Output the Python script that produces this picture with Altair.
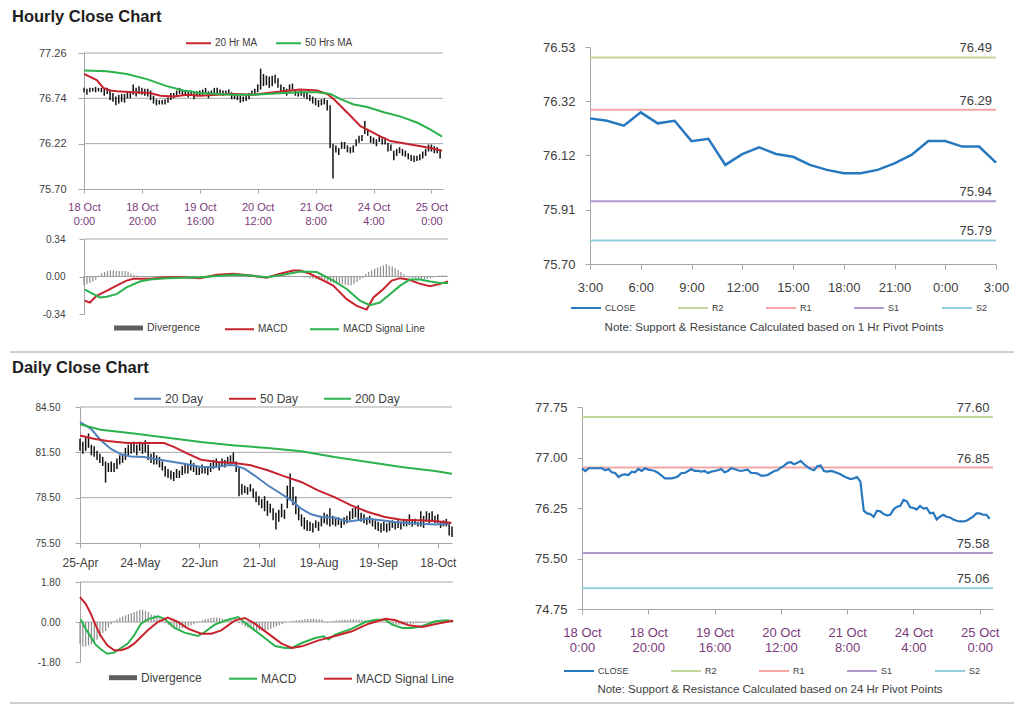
import json
import altair as alt
import pandas as pd

FONT = "Liberation Sans"
RED = "#c8232c"
GREEN = "#2bb24c"
BLUE20 = "#4f81bd"
CLOSE_BLUE = "#2878c0"
R2C, R1C, S1C, S2C = "#c3d69b", "#f4a6a6", "#b09ad0", "#92cddc"
GRID = "#a6a6a6"
AXC = "#a6a6a6"
TXT = "#404040"
PURPLE = "#7b3b7b"
DIVC = "#8c8c8c"
W, H = 1008, 697

# ---------------- data ----------------
HR_TICKS = [0, 20, 40, 60, 80, 100, 120]
HR_LABELS = [["18 Oct", "0:00"], ["18 Oct", "20:00"], ["19 Oct", "16:00"], ["20 Oct", "12:00"],
             ["21 Oct", "8:00"], ["24 Oct", "4:00"], ["25 Oct", "0:00"]]
DY_TICKS = [0, 21, 42, 63, 84, 105, 126]
DY_LABELS = ["25-Apr", "24-May", "22-Jun", "21-Jul", "19-Aug", "19-Sep", "18-Oct"]
PV_TICKS = [0, 3, 6, 9, 12, 15, 18, 21, 24]
PV_LABELS = ["3:00", "6:00", "9:00", "12:00", "15:00", "18:00", "21:00", "0:00", "3:00"]

hr_close = [76.84, 76.80, 76.84, 76.84, 76.84, 76.84, 76.84, 76.81, 76.83, 76.78,
            76.77, 76.71, 76.74, 76.75, 76.74, 76.79, 76.78, 76.83, 76.80, 76.84,
            76.82, 76.81, 76.80, 76.77, 76.73, 76.69, 76.69, 76.69, 76.70, 76.72,
            76.77, 76.77, 76.80, 76.83, 76.80, 76.80, 76.79, 76.80, 76.77, 76.79,
            76.80, 76.81, 76.83, 76.78, 76.80, 76.84, 76.83, 76.81, 76.80, 76.81,
            76.82, 76.77, 76.77, 76.76, 76.73, 76.73, 76.74, 76.77, 76.80, 76.81,
            76.85, 76.88, 76.92, 76.93, 76.90, 76.92, 76.95, 76.90, 76.86, 76.83,
            76.81, 76.87, 76.88, 76.80, 76.79, 76.80, 76.79, 76.77, 76.75, 76.72,
            76.70, 76.68, 76.69, 76.71, 76.64, 76.21, 76.17, 76.16, 76.12, 76.21,
            76.20, 76.16, 76.14, 76.15, 76.23, 76.27, 76.28, 76.37, 76.35, 76.26,
            76.25, 76.23, 76.28, 76.24, 76.25, 76.17, 76.18, 76.08, 76.12, 76.15,
            76.12, 76.11, 76.08, 76.06, 76.05, 76.05, 76.06, 76.09, 76.12, 76.17,
            76.17, 76.15, 76.15, 76.09]
hr_hi = [76.86, 76.85, 76.86, 76.86, 76.87, 76.86, 76.86, 76.85, 76.86, 76.84,
         76.80, 76.76, 76.78, 76.79, 76.79, 76.82, 76.80, 76.90, 76.86, 76.88,
         76.86, 76.85, 76.85, 76.83, 76.77, 76.73, 76.72, 76.72, 76.73, 76.75,
         76.80, 76.80, 76.83, 76.86, 76.83, 76.83, 76.82, 76.83, 76.81, 76.82,
         76.83, 76.84, 76.86, 76.82, 76.83, 76.86, 76.86, 76.84, 76.83, 76.83,
         76.84, 76.81, 76.80, 76.79, 76.77, 76.76, 76.77, 76.80, 76.83, 76.85,
         76.90, 77.08, 77.02, 77.00, 76.99, 77.00, 77.01, 76.97, 76.90, 76.87,
         76.85, 76.90, 76.91, 76.84, 76.82, 76.83, 76.82, 76.80, 76.78, 76.76,
         76.74, 76.72, 76.73, 76.74, 76.72, 76.66, 76.22, 76.20, 76.17, 76.24,
         76.24, 76.20, 76.18, 76.20, 76.27, 76.31, 76.32, 76.48, 76.39, 76.31,
         76.29, 76.27, 76.31, 76.28, 76.29, 76.23, 76.21, 76.14, 76.16, 76.18,
         76.16, 76.14, 76.11, 76.09, 76.08, 76.08, 76.10, 76.13, 76.16, 76.21,
         76.21, 76.19, 76.18, 76.15]
hr_lo = [76.81, 76.78, 76.81, 76.82, 76.81, 76.82, 76.81, 76.77, 76.79, 76.72,
         76.70, 76.66, 76.68, 76.70, 76.69, 76.74, 76.74, 76.78, 76.76, 76.79,
         76.78, 76.77, 76.76, 76.72, 76.68, 76.66, 76.67, 76.67, 76.67, 76.69,
         76.72, 76.74, 76.76, 76.79, 76.77, 76.77, 76.75, 76.77, 76.73, 76.76,
         76.77, 76.78, 76.79, 76.74, 76.77, 76.80, 76.80, 76.78, 76.77, 76.78,
         76.79, 76.73, 76.73, 76.72, 76.69, 76.70, 76.71, 76.73, 76.77, 76.78,
         76.81, 76.84, 76.88, 76.89, 76.86, 76.88, 76.91, 76.86, 76.82, 76.79,
         76.77, 76.82, 76.84, 76.77, 76.76, 76.77, 76.75, 76.73, 76.71, 76.68,
         76.66, 76.64, 76.66, 76.67, 76.60, 76.17, 75.82, 76.12, 76.09, 76.16,
         76.16, 76.12, 76.11, 76.12, 76.19, 76.23, 76.25, 76.33, 76.31, 76.23,
         76.22, 76.19, 76.24, 76.21, 76.21, 76.13, 76.14, 76.03, 76.08, 76.11,
         76.08, 76.07, 76.04, 76.02, 76.01, 76.02, 76.03, 76.05, 76.08, 76.13,
         76.13, 76.11, 76.11, 76.05]

ma20h_i = [0, 4.4, 6.7, 9, 11.3, 17, 22.8, 26.4, 31, 35.6, 40.1, 45.9, 51.7, 58.6, 63.2, 69, 74.7,
           80.5, 84, 86.3, 92, 95.5, 99, 102.5, 105.9, 109.4, 112.8, 116.3, 119.7, 123.7]
ma20h_v = [77.02, 76.95, 76.86, 76.83, 76.82, 76.81, 76.80, 76.77, 76.76, 76.78, 76.77, 76.78, 76.79,
           76.78, 76.80, 76.82, 76.84, 76.83, 76.79, 76.73, 76.54, 76.42, 76.36, 76.30, 76.25, 76.23,
           76.21, 76.19, 76.17, 76.14]
ma50h_i = [0, 7.9, 14.8, 21.7, 28.6, 34.4, 40.1, 45.9, 51.7, 57.5, 63.2, 69, 74.7, 80.5, 85.1, 88.6,
           93.2, 97.8, 103.6, 109.4, 115.2, 119.7, 123.7]
ma50h_v = [77.06, 77.05, 77.02, 76.96, 76.88, 76.83, 76.80, 76.79, 76.78, 76.78, 76.79, 76.80, 76.81,
           76.81, 76.79, 76.73, 76.67, 76.64, 76.58, 76.53, 76.46, 76.38, 76.30]

macdh_i = [0.3, 2, 4.3, 7.7, 11.1, 14.5, 16.8, 22.5, 28.2, 33.9, 39.5, 45.2, 50.9, 56.6, 62.2, 66.8,
           71.3, 73.6, 77, 81.6, 84.9, 89.5, 92.9, 96.3, 98.6, 102, 104.8, 107.7, 110.5, 114.5, 117.9,
           121.3, 124]
macdh_v = [-0.22, -0.236, -0.175, -0.13, -0.083, -0.037, -0.021, -0.02, -0.006, -0.006, -0.015, 0.015,
           0.025, 0.009, -0.012, 0.025, 0.055, 0.055, 0.025, -0.037, -0.083, -0.205, -0.266, -0.30,
           -0.19, -0.113, -0.037, -0.015, -0.028, -0.067, -0.089, -0.067, -0.046]
sigh_i = [0.3, 3.2, 5.4, 7.7, 11.1, 14.5, 19, 22.5, 28.2, 39.5, 50.9, 56.6, 62.2, 67.9, 73.6, 79.3,
          84.9, 89.5, 94, 97.4, 100.8, 104.2, 107.7, 111, 114.5, 117.9, 121.3, 124]
sigh_v = [-0.12, -0.16, -0.19, -0.184, -0.16, -0.098, -0.046, -0.028, -0.015, -0.006, 0.015, 0.009,
          -0.006, 0.015, 0.046, 0.04, -0.037, -0.113, -0.22, -0.26, -0.236, -0.16, -0.083, -0.028,
          -0.028, -0.046, -0.058, -0.058]
divh = [-0.08, -0.07, -0.06, -0.045, -0.03, 0.01, 0.03, 0.04, 0.05, 0.055,
        0.055, 0.05, 0.05, 0.05, 0.05, 0.045, 0.03, 0.015, 0.008, 0.005,
        0.003, 0.002, 0.0, -0.004, -0.005, 0.003, 0.008, 0.006, 0.005, 0.004,
        0.004, 0.003, 0.002, -0.003, 0.003, 0.002, -0.002, 0.003, 0.004, 0.002,
        -0.003, -0.004, 0.002, 0.003, 0.004, 0.005, 0.006, 0.004, 0.003, 0.002,
        0.003, 0.004, -0.002, -0.004, -0.005, -0.004, -0.003, -0.002, 0.002, -0.003,
        -0.005, -0.004, -0.005, 0.004, 0.01, 0.012, 0.012, 0.011, 0.01, 0.009,
        0.008, 0.006, 0.005, 0.0, -0.005, -0.008, -0.01, -0.015, -0.02, -0.025,
        -0.03, -0.035, -0.04, -0.045, -0.05, -0.055, -0.06, -0.065, -0.07, -0.075,
        -0.08, -0.08, -0.07, -0.05, -0.03, -0.015, 0.02, 0.04, 0.055, 0.07,
        0.08, 0.09, 0.1, 0.11, 0.1, 0.09, 0.075, 0.06, 0.04, 0.02,
        0.005, -0.01, -0.015, -0.02, -0.022, -0.025, -0.022, -0.02, -0.015, -0.01,
        -0.005, 0.01, 0.012, 0.012]
hprice_grid = [76.22, 76.74, 77.26]
macdh_grid = [0.34, 0.0]

piv1_close = [76.257, 76.248, 76.229, 76.28, 76.238, 76.248, 76.170, 76.179, 76.079, 76.12, 76.146,
              76.121, 76.11, 76.079, 76.06, 76.047, 76.047, 76.06, 76.085, 76.117, 76.17, 76.17,
              76.149, 76.149, 76.088]
PIV_NAMES = ["R2", "R1", "S1", "S2"]
piv1_levels = [76.49, 76.29, 75.94, 75.79]
piv24_levels = [77.60, 76.85, 75.58, 75.06]
NOTE1 = "Note: Support & Resistance Calculated based on 1 Hr Pivot Points"
NOTE24 = "Note: Support & Resistance Calculated based on 24 Hr Pivot Points"

dy_hi = [82.4, 82.2, 82.5, 82.75, 82.0, 81.9, 81.6, 81.4, 81.2, 80.9,
         80.8, 80.9, 80.8, 81.1, 81.3, 81.4, 81.8, 82.0, 82.1, 82.2,
         82.0, 82.2, 82.1, 82.3, 82.0, 81.4, 81.5, 81.3, 81.2, 80.9,
         80.6, 80.4, 80.3, 80.2, 80.4, 80.3, 80.6, 80.8, 80.7, 81.0,
         80.8, 80.6, 80.5, 80.7, 80.6, 80.5, 80.8, 81.0, 81.1, 80.9,
         81.1, 81.0, 81.2, 81.3, 81.5, 80.9, 80.5, 79.4, 79.3, 79.2,
         79.4, 79.1, 78.9, 78.6, 78.4, 78.6, 78.3, 78.1, 77.8, 77.5,
         77.7, 78.1, 77.7, 79.3, 80.1, 79.2, 78.6, 77.9, 77.4, 77.2,
         77.0, 76.9, 76.8, 77.0, 76.9, 77.3, 77.5, 77.4, 77.8, 77.3,
         77.1, 77.2, 77.0, 77.2, 77.3, 77.6, 77.8, 77.9, 78.0, 77.5,
         77.4, 77.2, 77.3, 77.1, 77.0, 76.9, 76.8, 76.9, 76.8, 76.9,
         77.0, 76.9, 77.0, 76.9, 77.1, 77.0, 77.4, 77.0, 77.1, 76.9,
         77.6, 77.3, 77.6, 77.5, 77.6, 77.3, 77.4, 76.9, 77.0, 77.1,
         76.9, 76.6]
dy_lo = [81.6, 81.4, 81.6, 81.8, 81.3, 81.2, 81.0, 80.8, 80.6, 79.5,
         80.2, 80.2, 80.2, 80.4, 80.7, 80.8, 81.0, 81.3, 81.4, 81.5,
         81.3, 81.6, 81.4, 81.5, 81.0, 80.8, 80.7, 80.7, 80.5, 80.3,
         79.9, 79.8, 79.7, 79.6, 79.8, 79.8, 80.0, 80.1, 80.1, 80.3,
         80.2, 80.0, 80.0, 80.1, 80.1, 80.0, 80.2, 80.4, 80.5, 80.3,
         80.6, 80.5, 80.7, 80.6, 80.8, 80.2, 78.6, 78.7, 78.8, 78.7,
         78.9, 78.5, 78.2, 78.0, 77.8, 77.6, 77.3, 77.5, 77.0, 76.4,
         76.9, 77.2, 77.1, 77.8, 78.4, 78.0, 77.4, 77.0, 76.6, 76.4,
         76.3, 76.3, 76.2, 76.5, 76.3, 76.6, 76.8, 76.7, 76.6, 76.7,
         76.6, 76.7, 76.5, 76.7, 76.8, 77.0, 77.1, 77.2, 77.0, 76.9,
         76.8, 76.7, 76.8, 76.6, 76.4, 76.3, 76.2, 76.3, 76.2, 76.3,
         76.5, 76.4, 76.5, 76.4, 76.6, 76.6, 76.7, 76.6, 76.7, 76.6,
         76.6, 76.5, 76.9, 76.8, 76.9, 76.8, 76.8, 76.5, 76.6, 76.6,
         76.0, 75.9]
dprice_grid = [78.5, 81.5, 84.5]

ma20d_i = [0, 3.8, 7.3, 10.8, 14.4, 17.9, 22.6, 26.1, 30.8, 36.7, 42.6, 47.3, 52, 54.4, 57.9, 61.4,
           66.1, 70.8, 74.4, 77.9, 81.4, 84.9, 89.6, 94.4, 97.9, 101.4, 106.1, 110.8, 115.5, 120.2,
           124.9, 130.2]
ma20d_v = [83.5, 83.07, 82.3, 81.74, 81.37, 81.23, 81.19, 81.08, 80.93, 80.75, 80.53, 80.53, 80.64,
           80.64, 80.42, 79.98, 79.32, 78.76, 78.32, 77.77, 77.4, 77.22, 77.18, 76.93, 77.0, 77.11,
           77.0, 76.89, 76.82, 76.78, 76.73, 76.78]
ma50d_i = [0, 4.9, 9.6, 16.7, 22.6, 29.6, 33.2, 37.9, 42.6, 48.5, 54.4, 60.2, 66.1, 72, 77.9, 83.8,
           89.6, 95.5, 101.4, 107.3, 113.2, 119.1, 125, 130.8]
ma50d_v = [82.62, 82.4, 82.25, 82.12, 82.12, 82.12, 81.85, 81.41, 81.01, 80.86, 80.79, 80.64, 80.31,
           79.91, 79.54, 78.98, 78.54, 77.99, 77.55, 77.22, 77.04, 77.0, 76.96, 76.82]
ma200d_i = [0, 7.3, 19, 30.8, 42.6, 54.4, 66.1, 77.9, 89.6, 101.4, 113.2, 125, 131]
ma200d_v = [83.35, 83.0, 82.74, 82.47, 82.18, 81.96, 81.79, 81.57, 81.19, 80.86, 80.53, 80.26, 80.09]

macdd_i = [0.2, 2, 3.8, 5.5, 7.3, 9.6, 12, 14.4, 16.7, 19, 21.4, 23.8, 27.3, 29.6, 33.2, 36.7, 41.4,
           43.8, 47.3, 52, 55.5, 57.9, 61.4, 64.9, 68.5, 72, 74.4, 77.9, 82.6, 85.5, 87.3, 89.6, 95.5,
           100.2, 103.8, 107.3, 109.6, 113.2, 116.7, 120.2, 124.9, 128.5, 131]
macdd_v = [0.12, -0.3, -0.67, -1.02, -1.23, -1.43, -1.38, -1.17, -0.98, -0.6, -0.075, 0.12, 0.255,
           0.15, -0.27, -0.48, -0.63, -0.45, -0.12, 0.105, 0.225, -0.03, -0.375, -0.72, -1.08, -1.17,
           -1.17, -0.945, -0.72, -0.645, -0.78, -0.57, -0.3, 0.0, 0.105, 0.105, -0.12, -0.27, -0.27,
           -0.18, 0.03, 0.075, 0.03]
sigd_i = [0, 2, 3.8, 5.5, 7.3, 9.6, 12, 14.4, 16.7, 19, 21.4, 23.8, 27.3, 30.8, 34.4, 37.9, 42.6,
          46.1, 49.6, 54.4, 57.9, 61.4, 66.1, 70.8, 74.4, 77.9, 83.8, 89.6, 95.5, 101.4, 107.3, 110.8,
          115.5, 120.2, 124.9, 131]
sigd_v = [1.12, 0.82, 0.375, -0.15, -0.63, -1.05, -1.27, -1.27, -1.17, -0.975, -0.675, -0.375, 0.0,
          0.195, 0.0, -0.3, -0.525, -0.525, -0.375, 0.075, 0.18, -0.075, -0.525, -0.975, -1.17,
          -1.095, -0.825, -0.63, -0.42, -0.075, 0.15, 0.075, -0.15, -0.225, -0.09, 0.06]
divd = [-1.0, -1.1, -1.1, -1.05, -1.0, -0.9, -0.8, -0.65, -0.5, -0.4, -0.25, -0.1,
        0.05, 0.12, 0.2, 0.25, 0.3, 0.35, 0.4, 0.45, 0.5, 0.55, 0.55, 0.5,
        0.45, 0.35, 0.3, 0.25, 0.15, 0.05, -0.05, -0.12, -0.2, -0.27, -0.3, -0.3,
        -0.28, -0.25, -0.2, -0.15, -0.1, -0.05, 0.02, 0.08, 0.12, 0.15, 0.18, 0.2,
        0.2, 0.18, 0.15, 0.12, 0.1, 0.08, 0.05, 0.02, -0.05, -0.12, -0.2, -0.25,
        -0.3, -0.33, -0.36, -0.38, -0.4, -0.38, -0.35, -0.3, -0.25, -0.2, -0.15, -0.1,
        -0.05, 0.0, 0.03, 0.05, 0.07, 0.09, 0.1, 0.12, 0.13, 0.14, 0.15, 0.14,
        0.12, 0.1, 0.02, -0.05, 0.02, 0.05, 0.07, 0.08, 0.09, 0.1, 0.1, 0.11,
        0.12, 0.1, 0.1, 0.09, 0.08, 0.07, 0.06, 0.05, 0.04, 0.03, 0.01, -0.02,
        -0.05, -0.08, -0.1, -0.12, -0.12, -0.12, -0.11, -0.1, -0.09, -0.08, -0.06, -0.05,
        -0.04, -0.02, 0.0, 0.02, 0.04, 0.05, 0.06, 0.06, 0.05, 0.04, 0.03, 0.02]
macdd_grid = [1.8, 0.0]

# ---------------- helpers ----------------
NUM = "replace(format(datum.value, '.2f'), '\u2212', '-')"
HR_EXPR = json.dumps(HR_LABELS) + "[round(datum.value/20)]"
DY_EXPR = json.dumps(DY_LABELS) + "[round(datum.value/21)]"
PV_EXPR = json.dumps(PV_LABELS) + "[round(datum.value/3)]"


def series(xs, vs, name):
    n = min(len(xs), len(vs))
    return pd.DataFrame({"i": list(xs)[:n], "v": list(vs)[:n], "s": name})


def scale(dom, rng):
    return alt.Scale(domain=dom, range=rng, nice=False, zero=False)


def xaxis(values, expr, fs, pad, tick, color, bottom, lh=None):
    kw = dict(orient="bottom", offset=bottom - H, values=values, labelExpr=expr, title=None,
              grid=False, labelColor=color, labelFontSize=fs, labelPadding=pad, tickSize=tick,
              labelFlush=False, labelOverlap=False)
    if lh:
        kw["labelLineHeight"] = lh
    return alt.Axis(**kw)


def yaxis(values, fs, pad, tick, left):
    return alt.Axis(orient="left", offset=-left, values=values, labelExpr=NUM, title=None,
                    grid=False, labelFontSize=fs, labelPadding=pad, tickSize=tick,
                    labelFlush=False, labelOverlap=False, labelColor=TXT)


def legend(x, y, fs, pad, size):
    return alt.Legend(orient="none", legendX=x, legendY=y, direction="horizontal", title=None,
                      symbolType="stroke", symbolSize=size, symbolStrokeWidth=2, labelFontSize=fs,
                      labelColor=TXT, columnPadding=pad, labelOffset=3, labelLimit=300)


class Panel:
    """plot area placed at pixel box (x0, x1, ytop, ybottom) of the single canvas"""

    def __init__(self, box, xdom, ydom, xax, yax):
        self.box, self.xdom, self.ydom, self.xax, self.yax = box, xdom, ydom, xax, yax

    def X(self, f, ax=False):
        return alt.X(f"{f}:Q", scale=scale(self.xdom, [self.box[0], self.box[1]]),
                     axis=self.xax if ax else None)

    def Y(self, f, ax=False):
        return alt.Y(f"{f}:Q", scale=scale(self.ydom, [self.box[3], self.box[2]]),
                     axis=self.yax if ax else None)

    def grid(self, vals):
        d = pd.DataFrame({"v": vals, "a": self.xdom[0], "b": self.xdom[1]})
        return alt.Chart(d).mark_rule(color=GRID, strokeWidth=1).encode(
            x=self.X("a"), x2="b:Q", y=self.Y("v"))


# pixel placement of each plot area (x0, x1, ytop, ybottom)
B1 = (76, 435, 45, 181)
B2 = (76, 440, 231, 306)
B3 = (582, 988, 39, 256)
B4 = (72, 444, 399, 535)
B5 = (72, 445, 574, 654)
B6 = (574, 985, 399, 601)

layers = []

# ---------------- P1 hourly price ----------------
P1 = Panel(B1, [0, 124], [75.70, 77.26],
           xaxis(HR_TICKS, HR_EXPR, 11, 8, 4, PURPLE, B1[3], 14),
           yaxis([75.70, 76.22, 76.74, 77.26], 11, 12, 6, B1[0]))
df_hbar = pd.DataFrame({"i": list(range(len(hr_hi))), "lo": hr_lo[:len(hr_hi)], "hi": hr_hi})
df_hma = pd.concat([series(ma20h_i, ma20h_v, "20 Hr MA"), series(ma50h_i, ma50h_v, "50 Hrs MA")])
layers += [
    P1.grid(hprice_grid),
    alt.Chart(df_hbar).mark_rule(color="#111111", strokeWidth=1.5).encode(
        x=P1.X("i", True), y=P1.Y("lo", True), y2="hi:Q"),
    alt.Chart(df_hma).mark_line(strokeWidth=2).encode(
        x=P1.X("i"), y=P1.Y("v"),
        color=alt.Color("s:N", scale=alt.Scale(domain=["20 Hr MA", "50 Hrs MA"], range=[RED, GREEN]),
                        legend=legend(177, 21.5, 10, 14, 625))),
]

# ---------------- P2 hourly MACD ----------------
P2 = Panel(B2, [0, 124], [-0.34, 0.34], None, yaxis([-0.34, 0.0, 0.34], 10, 14, 5, B2[0]))
df_divh = pd.DataFrame({"i": list(range(len(divh))), "v": divh, "z": 0.0})
df_macdh = pd.concat([series(macdh_i, macdh_v, "MACD"), series(sigh_i, sigh_v, "MACD Signal Line")])
layers += [
    P2.grid(macdh_grid),
    alt.Chart(df_divh).mark_rule(strokeWidth=1.2, color=DIVC).encode(
        x=P2.X("i"), y=P2.Y("v", True), y2="z:Q"),
    alt.Chart(df_macdh).mark_line(strokeWidth=2).encode(
        x=P2.X("i"), y=P2.Y("v"),
        color=alt.Color("s:N", scale=alt.Scale(domain=["MACD", "MACD Signal Line"], range=[RED, GREEN]),
                        legend=legend(216, 305.5, 10, 18, 841))),
]

# ---------------- P4 daily price ----------------
P4 = Panel(B4, [0, 131], [75.5, 84.5],
           xaxis(DY_TICKS, DY_EXPR, 12, 9, 5, TXT, B4[3]),
           yaxis([75.5, 78.5, 81.5, 84.5], 10, 15, 5, B4[0]))
df_dbar = pd.DataFrame({"i": list(range(len(dy_hi))), "lo": dy_lo[:len(dy_hi)], "hi": dy_hi})
df_dma = pd.concat([series(ma20d_i, ma20d_v, "20 Day"), series(ma50d_i, ma50d_v, "50 Day"),
                    series(ma200d_i, ma200d_v, "200 Day")])
layers += [
    P4.grid(dprice_grid),
    alt.Chart(df_dbar).mark_rule(color="#111111", strokeWidth=1.5).encode(
        x=P4.X("i", True), y=P4.Y("lo", True), y2="hi:Q"),
    alt.Chart(df_dma).mark_line(strokeWidth=2).encode(
        x=P4.X("i"), y=P4.Y("v"),
        color=alt.Color("s:N", scale=alt.Scale(domain=["20 Day", "50 Day", "200 Day"],
                                               range=[BLUE20, RED, GREEN]),
                        legend=legend(125, 376, 12, 21, 729))),
]

# ---------------- P5 daily MACD ----------------
P5 = Panel(B5, [0, 131], [-1.8, 1.8], None, yaxis([-1.8, 0.0, 1.8], 10, 15, 5, B5[0]))
df_divd = pd.DataFrame({"i": list(range(len(divd))), "v": divd, "z": 0.0})
df_macdd = pd.concat([series(macdd_i, macdd_v, "MACD"), series(sigd_i, sigd_v, "MACD Signal Line")])
layers += [
    P5.grid(macdd_grid),
    alt.Chart(df_divd).mark_rule(strokeWidth=1.2, color=DIVC).encode(
        x=P5.X("i"), y=P5.Y("v", True), y2="z:Q"),
    alt.Chart(df_macdd).mark_line(strokeWidth=2).encode(
        x=P5.X("i"), y=P5.Y("v"),
        color=alt.Color("s:N", scale=alt.Scale(domain=["MACD", "MACD Signal Line"], range=[GREEN, RED]),
                        legend=legend(220, 655.7, 12, 23, 784))),
]

# ---------------- pivot panels ----------------
PIV_DOMAIN = ["CLOSE", "R2", "R1", "S1", "S2"]
PIV_RANGE = [CLOSE_BLUE, R2C, R1C, S1C, S2C]


def pivot_layers(P, close_v, levels, lab_x, leg_x, leg_y, close_w):
    df_lv = pd.DataFrame({"v": levels, "s": PIV_NAMES, "a": P.xdom[0], "b": P.xdom[1]})
    df_c = series(range(len(close_v)), close_v, "CLOSE")
    df_lab = pd.DataFrame({"v": levels, "lx": lab_x})
    return [
        alt.Chart(df_lv).mark_rule(strokeWidth=2).encode(
            x=P.X("a", True), x2="b:Q", y=P.Y("v", True),
            color=alt.Color("s:N", scale=alt.Scale(domain=PIV_DOMAIN, range=PIV_RANGE),
                            legend=legend(leg_x, leg_y, 9, 38, 900))),
        alt.Chart(df_c).mark_line(strokeWidth=close_w, color=CLOSE_BLUE).encode(
            x=P.X("i"), y=P.Y("v")),
        alt.Chart(df_lab).mark_text(fontSize=13, color=TXT, align="center", baseline="middle", dy=-9)
        .encode(x=P.X("lx"), y=P.Y("v"), text=alt.Text("v:Q", format=".2f")),
    ]


P3 = Panel(B3, [0, 24], [75.70, 76.53],
           xaxis(PV_TICKS, PV_EXPR, 13, 12, 5, TXT, B3[3]),
           yaxis([75.70, 75.9075, 76.1151, 76.3225, 76.53], 13, 10, 5, B3[0]))
P6 = Panel(B6, [0, 124], [74.75, 77.75],
           xaxis(HR_TICKS, HR_EXPR, 13, 12, 5, PURPLE, B6[3], 15.5),
           yaxis([74.75, 75.50, 76.25, 77.00, 77.75], 13, 10, 5, B6[0]))
layers += pivot_layers(P3, piv1_close, piv1_levels, 22.8, 562, 284, 2.5)
layers += pivot_layers(P6, hr_close, piv24_levels, 118, 555, 647, 2.2)


# ---------------- decorations ----------------
def text(t, x, y, size, bold=False, align="left"):
    return alt.Chart(pd.DataFrame({"t": [t]})).mark_text(
        align=align, baseline="middle", fontSize=size, fontWeight="bold" if bold else "normal",
        color="#1e1e1e" if bold else TXT).encode(x=alt.value(x), y=alt.value(y), text="t:N")


def hline(y, x0, x1, color="#a0a0a0", width=1):
    return alt.Chart(pd.DataFrame({"z": [0]})).mark_rule(color=color, strokeWidth=width).encode(
        x=alt.value(x0), x2=alt.value(x1), y=alt.value(y))


layers += [
    text("Hourly Close Chart", 4, 8.5, 16.5, bold=True),
    text("Daily Close Chart", 4, 360, 16.5, bold=True),
    hline(344, 2, 1006), hline(695, 2, 1006),
    text(NOTE1, 766, 319.7, 11.5, align="center"),
    text(NOTE24, 762, 682, 11.5, align="center"),
    # legend keys for the divergence bars
    hline(320, 106, 135, "#5f5f5f", 5), text("Divergence", 139, 320, 10.5),
    hline(669.7, 101, 129, "#5f5f5f", 5), text("Divergence", 133, 669.7, 12),
]

chart = alt.layer(*layers).resolve_scale(
    x="independent", y="independent", color="independent"
).properties(width=W, height=H, autosize="none", padding=0).configure(font=FONT).configure_view(
    stroke=None).configure_axis(domainColor=AXC, tickColor=AXC, labelFont=FONT, labelColor=TXT
).configure_legend(labelFont=FONT)

chart.save("out.html", embed_options={"renderer": "svg", "actions": False})
